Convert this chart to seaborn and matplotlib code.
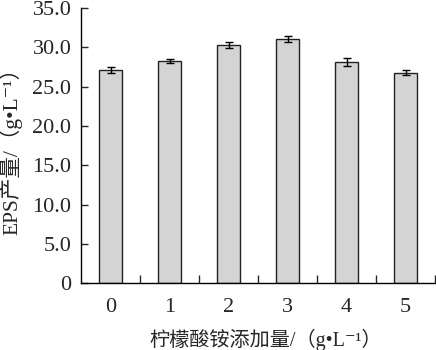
import matplotlib
matplotlib.use("Agg")
import matplotlib.pyplot as plt
import seaborn as sns
import numpy as np

categories = ["0", "1", "2", "3", "4", "5"]
eps_values = [27.15, 28.25, 30.3, 31.1, 28.1, 26.8]
eps_errors = [0.36, 0.3, 0.38, 0.36, 0.5, 0.32]
y_ticks = [0, 5, 10, 15, 20, 25, 30, 35]
y_tick_labels = ["0", "5.0", "10.0", "15.0", "20.0", "25.0", "30.0", "35.0"]

sns.set_style("ticks")
fam = ["Liberation Serif", "Noto Sans CJK SC", "DejaVu Serif"]
plt.rcParams["font.family"] = fam

fig = plt.figure(figsize=(4.36, 3.5), dpi=100)
ax = fig.add_axes([0.186, 0.191, 0.812, 0.786])

sns.barplot(x=categories, y=eps_values, width=0.4, color="#d4d4d4",
            edgecolor="#222222", linewidth=1.0, ax=ax, saturation=1)
ax.errorbar(np.arange(len(categories)), eps_values, yerr=eps_errors,
            fmt="none", ecolor="black", elinewidth=1.0, capsize=3, capthick=1.0)

ax.set_xlim(-0.5, 5.5)
ax.set_ylim(0, 35)
ax.set_yticks(y_ticks)
ax.set_yticklabels(y_tick_labels)
ax.set_xticks(np.arange(len(categories)))
ax.set_xticklabels(categories)
ax.set_xticks(np.arange(len(categories)) + 0.5, minor=True)

ax.tick_params(axis="y", direction="in", length=5, width=1, labelsize=16, pad=7)
ax.tick_params(axis="x", which="major", length=0, labelsize=16, pad=11)
ax.tick_params(axis="x", which="minor", direction="in", length=6, width=1)

for s in ["top", "right"]:
    ax.spines[s].set_visible(False)
for s in ["left", "bottom"]:
    ax.spines[s].set_linewidth(1.0)
    ax.spines[s].set_color("black")

ax.set_xlabel("柠檬酸铵添加量/（g•L⁻¹）", fontsize=14.5, family=fam)
ax.xaxis.set_label_coords(0.52, -0.165)
ax.set_ylabel("EPS产量/（g•L⁻¹）", fontsize=15.5, family=fam)
ax.yaxis.set_label_coords(-0.165, 0.5)

fig.savefig("out.png", dpi=100)
